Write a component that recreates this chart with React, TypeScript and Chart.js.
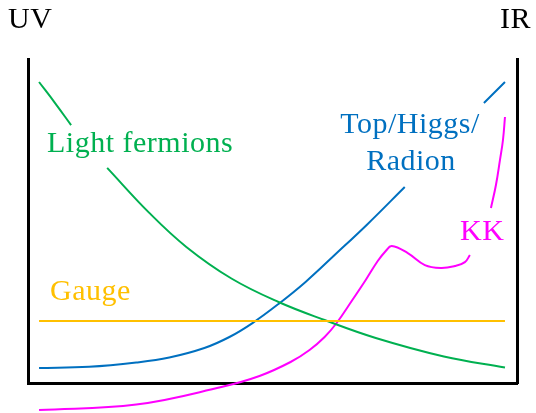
import React, { useEffect, useRef } from "react";
import { Chart, registerables } from "chart.js";

Chart.register(...registerables);

// x: 0 = UV brane, 100 = IR brane; y: 0..100 = profile height (frame bottom..top)
const lightFermionsX = [0, 3.44, 6.88, 10, 14.62, 23.66, 31.61, 41.29, 51.4, 61.29, 72.26, 86.88, 100];
const lightFermionsY = [92.9, 86.4, 79.6, null, 66.4, 52.5, 42.0, 32.25, 25.0, 19.44, 13.9, 8.2, 4.8];

const topHiggsX = [0, 10.75, 20.86, 27.96, 35.48, 40.86, 45.81, 51.4, 57.2, 63.44, 70.54, 78.49, 87, 95.48, 100];
const topHiggsY = [4.63, 5.0, 6.33, 7.87, 10.8, 14.2, 18.5, 24.4, 31.2, 39.5, 49.1, 60.5, null, 86.4, 92.9];

const gaugeX = [0, 100];
const gaugeY = [19.1, 19.1];

const kkX = [0, 20.86, 39.14, 47.31, 53.98, 58.06, 61.29, 63.87, 67.1, 70.11, 72.69, 74.41, 75.7, 79.14, 82.8, 86.24, 89.25, 91.4, 92.47, 95, 96.99, 98.06, 98.92, 99.57, 100];
const kkY = [-8.33, -6.64, -1.23, 2.16, 6.48, 10.19, 14.2, 18.52, 25.3, 31.8, 37.65, 40.74, 42.3, 40.1, 36.4, 35.5, 36.1, 37.3, 39.5, null, 54.0, 61.1, 68.8, 75.0, 82.1];

const cornerLabels = ["UV", "IR"];
const seriesLabels = ["Light fermions", "Top/Higgs/", "Radion", "KK", "Gauge"];

const GREEN = "#00b050";
const BLUE = "#0070c0";
const YELLOW = "#ffc000";
const MAGENTA = "#ff00ff";

const toPoints = (xs: number[], ys: (number | null)[]) => xs.map((x, i) => ({ x, y: ys[i] }));

const labelPlugin = {
  id: "labels",
  afterDraw(chart: any) {
    const ctx = chart.ctx;
    ctx.save();
    ctx.font = '30px "Liberation Serif"';
    ctx.textBaseline = "alphabetic";
    try { (ctx as any).letterSpacing = "0.5px"; } catch (e) {}
    ctx.fillStyle = "#000";
    ctx.textAlign = "left";
    ctx.fillText(cornerLabels[0], 8, 28);
    ctx.textAlign = "right";
    ctx.fillText(cornerLabels[1], 531, 28);
    ctx.textAlign = "left";
    ctx.fillStyle = GREEN;
    ctx.fillText(seriesLabels[0], 47, 152);
    ctx.fillStyle = BLUE;
    ctx.textAlign = "center";
    ctx.fillText(seriesLabels[1], 410, 133);
    ctx.fillText(seriesLabels[2], 411, 170);
    ctx.fillStyle = MAGENTA;
    ctx.textAlign = "left";
    ctx.fillText(seriesLabels[3], 460, 240);
    ctx.fillStyle = YELLOW;
    ctx.fillText(seriesLabels[4], 50, 300);
    ctx.restore();
  },
};

const axisBase = {
  type: "linear" as const,
  ticks: { display: false },
  grid: { display: false, drawTicks: false, tickLength: 0 },
  border: { display: true, color: "#000", width: 3 },
};

export default function App() {
  const ref = useRef<HTMLCanvasElement | null>(null);
  useEffect(() => {
    if (!ref.current) return;
    const line = (label: string, pts: any[], color: string, clip: any = undefined) => ({
      label,
      data: pts,
      borderColor: color,
      backgroundColor: color,
      borderWidth: 2,
      pointRadius: 0,
      fill: false,
      spanGaps: false,
      tension: 0.4,
      ...(clip !== undefined ? { clip } : {}),
    });
    const chart = new Chart(ref.current, {
      type: "line",
      data: {
        datasets: [
          line("Gauge", toPoints(gaugeX, gaugeY), YELLOW),
          line("Light fermions", toPoints(lightFermionsX, lightFermionsY), GREEN),
          line("Top/Higgs/Radion", toPoints(topHiggsX, topHiggsY), BLUE),
          line("KK", toPoints(kkX, kkY), MAGENTA, false),
        ],
      },
      options: {
        animation: false,
        responsive: true,
        maintainAspectRatio: false,
        layout: { padding: { left: 28, right: 19, top: 59, bottom: 30 } },
        plugins: { legend: { display: false }, tooltip: { enabled: false } },
        scales: {
          x: { ...axisBase, position: "bottom", min: -2.37, max: 102.58 },
          y: { ...axisBase, position: "left", min: 0, max: 100 },
          y2: { ...axisBase, position: "right", min: 0, max: 100 },
        },
      },
      plugins: [labelPlugin],
    });
    return () => chart.destroy();
  }, []);
  return (
    <div style={{ position: "fixed", left: 0, top: 0, width: 536, height: 413, background: "#fff" }}>
      <canvas ref={ref} />
    </div>
  );
}
